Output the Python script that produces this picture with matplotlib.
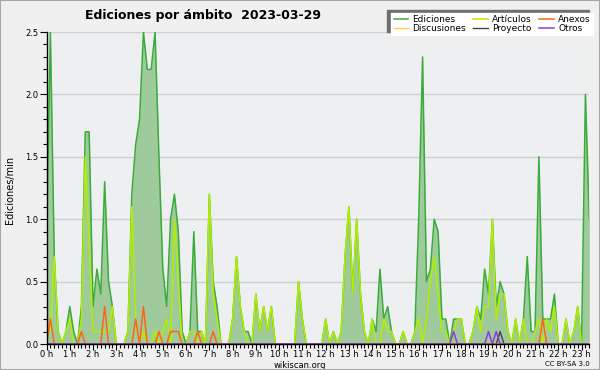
import numpy as np
import matplotlib
matplotlib.use('Agg')
import matplotlib.pyplot as plt
from matplotlib.patches import Rectangle
from matplotlib.ticker import MultipleLocator

# ediciones por minuto, un valor cada 10 minutos (0:00 -> 23:20), una fila por hora
ediciones = [
    0.8, 2.5, 0.7, 0.1, 0.0, 0.1,
    0.3, 0.1, 0.0, 0.3, 1.7, 1.7,
    0.3, 0.6, 0.4, 1.3, 0.5, 0.3,
    0.0, 0.0, 0.0, 0.1, 1.2, 1.6,
    1.8, 2.5, 2.2, 2.2, 2.5, 1.5,
    0.6, 0.3, 1.0, 1.2, 0.9, 0.1,
    0.0, 0.1, 0.9, 0.1, 0.1, 0.0,
    1.2, 0.5, 0.3, 0.0, 0.0, 0.0,
    0.2, 0.7, 0.3, 0.1, 0.1, 0.0,
    0.4, 0.1, 0.3, 0.1, 0.3, 0.0,
    0.0, 0.0, 0.0, 0.0, 0.0, 0.5,
    0.2, 0.0, 0.0, 0.0, 0.0, 0.0,
    0.2, 0.0, 0.1, 0.0, 0.1, 0.7,
    1.1, 0.4, 1.0, 0.4, 0.1, 0.0,
    0.2, 0.1, 0.6, 0.2, 0.3, 0.1,
    0.0, 0.0, 0.1, 0.0, 0.0, 0.1,
    1.0, 2.3, 0.5, 0.6, 1.0, 0.9,
    0.2, 0.2, 0.0, 0.2, 0.2, 0.2,
    0.0, 0.0, 0.1, 0.3, 0.2, 0.6,
    0.4, 1.0, 0.3, 0.5, 0.4, 0.1,
    0.0, 0.2, 0.0, 0.2, 0.7, 0.1,
    0.1, 1.5, 0.2, 0.2, 0.2, 0.4,
    0.0, 0.0, 0.2, 0.0, 0.1, 0.3,
    0.0, 2.0, 1.0,
]
articulos = [
    0.1, 0.1, 0.7, 0.1, 0.0, 0.1,
    0.2, 0.0, 0.0, 0.2, 1.5, 0.8,
    0.1, 0.1, 0.1, 0.1, 0.1, 0.3,
    0.0, 0.0, 0.0, 0.1, 1.1, 0.2,
    0.0, 0.1, 0.0, 0.0, 0.1, 0.0,
    0.1, 0.2, 0.0, 1.0, 0.5, 0.0,
    0.0, 0.1, 0.1, 0.0, 0.1, 0.0,
    1.2, 0.4, 0.2, 0.0, 0.0, 0.0,
    0.2, 0.7, 0.3, 0.1, 0.0, 0.0,
    0.4, 0.1, 0.3, 0.1, 0.3, 0.0,
    0.0, 0.0, 0.0, 0.0, 0.0, 0.5,
    0.2, 0.0, 0.0, 0.0, 0.0, 0.0,
    0.2, 0.0, 0.1, 0.0, 0.1, 0.7,
    1.1, 0.4, 1.0, 0.4, 0.1, 0.0,
    0.2, 0.0, 0.0, 0.2, 0.1, 0.1,
    0.0, 0.0, 0.1, 0.0, 0.0, 0.1,
    0.2, 0.0, 0.2, 0.5, 0.7, 0.4,
    0.1, 0.1, 0.0, 0.1, 0.2, 0.2,
    0.0, 0.0, 0.1, 0.3, 0.1, 0.3,
    0.3, 1.0, 0.2, 0.4, 0.4, 0.1,
    0.0, 0.2, 0.0, 0.2, 0.0, 0.0,
    0.1, 0.2, 0.0, 0.2, 0.1, 0.3,
    0.0, 0.0, 0.2, 0.0, 0.1, 0.3,
    0.0, 0.0, 0.0,
]
anexos = [
    0.0, 0.2, 0.0, 0.0, 0.0, 0.0,
    0.0, 0.0, 0.0, 0.1, 0.0, 0.0,
    0.0, 0.0, 0.0, 0.3, 0.0, 0.0,
    0.0, 0.0, 0.0, 0.0, 0.0, 0.2,
    0.0, 0.3, 0.0, 0.0, 0.0, 0.1,
    0.0, 0.0, 0.1, 0.1, 0.1, 0.0,
    0.0, 0.0, 0.0, 0.1, 0.0, 0.0,
    0.0, 0.1, 0.0, 0.0, 0.0, 0.0,
    0.0, 0.0, 0.0, 0.0, 0.0, 0.0,
    0.0, 0.0, 0.0, 0.0, 0.0, 0.0,
    0.0, 0.0, 0.0, 0.0, 0.0, 0.0,
    0.0, 0.0, 0.0, 0.0, 0.0, 0.0,
    0.0, 0.0, 0.0, 0.0, 0.0, 0.0,
    0.0, 0.0, 0.0, 0.0, 0.0, 0.0,
    0.0, 0.0, 0.0, 0.0, 0.0, 0.0,
    0.0, 0.0, 0.0, 0.0, 0.0, 0.0,
    0.0, 0.0, 0.0, 0.0, 0.0, 0.0,
    0.0, 0.0, 0.0, 0.0, 0.0, 0.0,
    0.0, 0.0, 0.0, 0.0, 0.0, 0.0,
    0.0, 0.0, 0.0, 0.0, 0.0, 0.0,
    0.0, 0.0, 0.0, 0.0, 0.0, 0.0,
    0.0, 0.0, 0.2, 0.0, 0.0, 0.0,
    0.0, 0.0, 0.0, 0.0, 0.0, 0.0,
    0.0, 0.0, 0.0,
]
discusiones = [0.0] * 141  # no aparece en el dia
proyecto = [
    0.0, 0.0, 0.0, 0.0, 0.0, 0.0,
    0.0, 0.0, 0.0, 0.0, 0.0, 0.0,
    0.0, 0.0, 0.0, 0.0, 0.0, 0.0,
    0.0, 0.0, 0.0, 0.0, 0.0, 0.0,
    0.0, 0.0, 0.0, 0.0, 0.0, 0.0,
    0.0, 0.0, 0.0, 0.0, 0.0, 0.0,
    0.0, 0.0, 0.0, 0.0, 0.0, 0.0,
    0.0, 0.0, 0.0, 0.0, 0.0, 0.0,
    0.0, 0.0, 0.0, 0.0, 0.0, 0.0,
    0.0, 0.0, 0.0, 0.0, 0.0, 0.0,
    0.0, 0.0, 0.0, 0.0, 0.0, 0.0,
    0.0, 0.0, 0.0, 0.0, 0.0, 0.0,
    0.0, 0.0, 0.0, 0.0, 0.0, 0.0,
    0.0, 0.0, 0.0, 0.0, 0.0, 0.0,
    0.0, 0.0, 0.0, 0.0, 0.0, 0.0,
    0.0, 0.0, 0.0, 0.0, 0.0, 0.0,
    0.0, 0.0, 0.0, 0.0, 0.0, 0.0,
    0.0, 0.0, 0.0, 0.0, 0.0, 0.0,
    0.0, 0.0, 0.0, 0.0, 0.0, 0.0,
    0.0, 0.0, 0.0, 0.1, 0.0, 0.0,
    0.0, 0.0, 0.0, 0.0, 0.0, 0.0,
    0.0, 0.0, 0.0, 0.0, 0.0, 0.0,
    0.0, 0.0, 0.0, 0.0, 0.0, 0.0,
    0.0, 0.0, 0.0,
]
otros = [
    0.0, 0.0, 0.0, 0.0, 0.0, 0.0,
    0.0, 0.0, 0.0, 0.0, 0.0, 0.0,
    0.0, 0.0, 0.0, 0.0, 0.0, 0.0,
    0.0, 0.0, 0.0, 0.0, 0.0, 0.0,
    0.0, 0.0, 0.0, 0.0, 0.0, 0.0,
    0.0, 0.0, 0.0, 0.0, 0.0, 0.0,
    0.0, 0.0, 0.0, 0.0, 0.0, 0.0,
    0.0, 0.0, 0.0, 0.0, 0.0, 0.0,
    0.0, 0.0, 0.0, 0.0, 0.0, 0.0,
    0.0, 0.0, 0.0, 0.0, 0.0, 0.0,
    0.0, 0.0, 0.0, 0.0, 0.0, 0.0,
    0.0, 0.0, 0.0, 0.0, 0.0, 0.0,
    0.0, 0.0, 0.0, 0.0, 0.0, 0.0,
    0.0, 0.0, 0.0, 0.0, 0.0, 0.0,
    0.0, 0.0, 0.0, 0.0, 0.0, 0.0,
    0.0, 0.0, 0.0, 0.0, 0.0, 0.0,
    0.0, 0.0, 0.0, 0.0, 0.0, 0.0,
    0.0, 0.0, 0.0, 0.1, 0.0, 0.0,
    0.0, 0.0, 0.0, 0.0, 0.0, 0.0,
    0.1, 0.0, 0.1, 0.0, 0.0, 0.0,
    0.0, 0.0, 0.0, 0.0, 0.0, 0.0,
    0.0, 0.0, 0.0, 0.0, 0.0, 0.0,
    0.0, 0.0, 0.0, 0.0, 0.0, 0.0,
    0.0, 0.0, 0.0,
]
horas = [f'{h} h' for h in range(24)]

t = np.arange(len(ediciones)) / 6.0  # horas

W, H = 600, 370
fig = plt.figure(figsize=(6, 3.7), dpi=100, facecolor='#f0f0f0')
ax = fig.add_axes([46.5 / W, 26 / H, (589.3 - 46.5) / W, 312 / H])
ax.set_facecolor('#eeeff1')

ax.fill_between(t, ediciones, color='#9fcb9c', lw=0, zorder=2)
l_ed, = ax.plot(t, ediciones, color='#3aac3a', lw=1.1, zorder=3, label='Ediciones')
l_ar, = ax.plot(t, articulos, color='#b2ee00', lw=1.1, zorder=4, label='Artículos')
l_di, = ax.plot(t, discusiones, color='#ffd24a', lw=1.0, zorder=4, label='Discusiones')
l_pr, = ax.plot(t, proyecto, color='#444444', lw=1.0, zorder=5, label='Proyecto')
l_an, = ax.plot(t, anexos, color='#ff6418', lw=1.1, zorder=5, label='Anexos')
l_ot, = ax.plot(t, otros, color='#8a3be6', lw=1.1, zorder=5, label='Otros')

ax.set_xlim(0, t[-1])
ax.set_ylim(0, 2.5)
ax.set_xticks(range(24))
ax.set_xticklabels(horas)
ax.xaxis.set_minor_locator(MultipleLocator(1 / 6))
ax.set_yticks([0, 0.5, 1.0, 1.5, 2.0, 2.5])
ax.set_yticklabels(['0.0', '0.5', '1.0', '1.5', '2.0', '2.5'])
ax.yaxis.set_minor_locator(MultipleLocator(0.1))
ax.tick_params(which='major', length=4, width=0.8, labelsize=6, pad=0.5, color='black')
ax.tick_params(which='minor', length=3, width=0.8)
ax.tick_params(axis='y', which='major', length=5, pad=1)
ax.grid(axis='y', which='major', color='#cfcfcf', lw=1, zorder=1)
ax.set_axisbelow(True)
for s in ['top', 'right']:
    ax.spines[s].set_visible(False)
for s in ['left', 'bottom']:
    ax.spines[s].set_linewidth(1.0)
    ax.spines[s].set_zorder(6)

fig.text(85 / W, 1 - 15 / H, 'Ediciones por ámbito  2023-03-29', fontsize=9,
         fontweight='bold', va='center')
fig.text(10 / W, 1 - 190 / H, 'Ediciones/min', rotation=90, ha='center',
         va='center', fontsize=7)
fig.text(0.5, 1 - 365 / H, 'wikiscan.org', ha='center', va='center', fontsize=6)
fig.text(590 / W, 1 - 364 / H, 'CC BY-SA 3.0', ha='right', va='center', fontsize=5)

# leyenda: orden por columnas
handles = [l_ed, l_di, l_ar, l_pr, l_an, l_ot]
leg = fig.legend(handles=handles, labels=[h.get_label() for h in handles], ncol=3,
                 loc='upper right', bbox_to_anchor=(593 / W, 1 - 12.5 / H),
                 fontsize=6.5, frameon=True, fancybox=False, edgecolor='white',
                 facecolor='white', framealpha=1, borderpad=0.25, labelspacing=0.05,
                 handlelength=1.6, handletextpad=0.5, columnspacing=0.8,
                 borderaxespad=0)
leg.set_zorder(6)

fig.canvas.draw()
bb = leg.get_window_extent().transformed(fig.transFigure.inverted())
fig.patches.append(Rectangle((bb.x0 - 4 / W, bb.y0 + 3 / H), bb.width, bb.height,
                             transform=fig.transFigure, color='#6e6e6e', zorder=5))
fig.patches.append(Rectangle((0, 0), 1, 1, transform=fig.transFigure, fill=False,
                             edgecolor='#a8a8a8', lw=1.5, zorder=10))

fig.savefig('out.png', dpi=100, facecolor=fig.get_facecolor())
